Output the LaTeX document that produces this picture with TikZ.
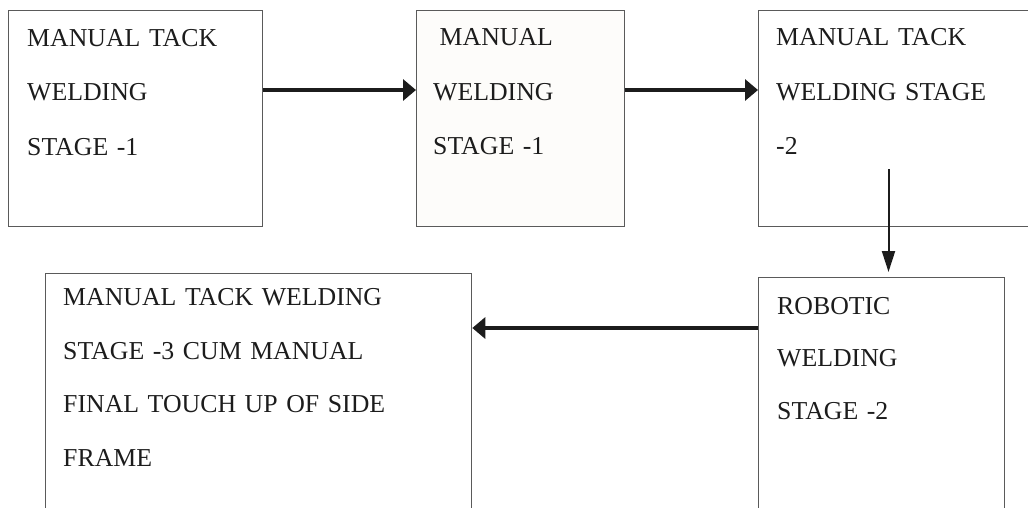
\documentclass[tikz,border=0pt]{standalone}
\usepackage{fontspec}
\setmainfont{Liberation Serif}[WordSpace=1.5]
\usetikzlibrary{arrows.meta}
\definecolor{framegray}{RGB}{90,90,90}
\definecolor{inkblack}{RGB}{28,28,28}
\definecolor{paper}{RGB}{253,252,250}

\begin{document}
\begin{tikzpicture}[x=1pt, y=-1pt,
    stagebox/.style={draw=framegray, line width=1.3pt, inner sep=0pt, anchor=north west},
    stagetext/.style={anchor=base west, inner sep=0pt, text width=420pt, align=left, text=inkblack,
        font=\fontsize{25.8}{54.6}\selectfont},
    flow/.style={draw=inkblack, line width=3.2pt, -{Triangle[length=13pt, width=21pt]}},
    drop/.style={draw=inkblack, line width=2pt, -{Triangle[length=21pt, width=13pt]}}]
\useasboundingbox (0,0) rectangle (1028,507);
\clip (0,0) rectangle (1028,507);
\node[stagebox, minimum width=254pt, minimum height=216.5pt] (b1) at (8,9.5) {};
\node[stagebox, fill=paper, minimum width=208pt, minimum height=216.5pt] (b2) at (416,9.5) {};
\node[stagebox, minimum width=300pt, minimum height=216.5pt] (b3) at (758,9.5) {};
\node[stagebox, minimum width=246pt, minimum height=260pt] (b4) at (758,277) {};
\node[stagebox, minimum width=426pt, minimum height=260pt] (b5) at (45,273) {};
\node[stagetext] (t1) at ([shift={(19,36.5)}]b1.north west) {MANUAL TACK\\WELDING\\STAGE -1};
\node[stagetext] (t2) at ([shift={(17,36)}]b2.north west) {\hspace*{6.5pt}MANUAL\\WELDING\\STAGE -1};
\node[stagetext] (t3) at ([shift={(18,36)}]b3.north west) {MANUAL TACK\\WELDING STAGE\\-2};
\node[stagetext, font=\fontsize{25.8}{52.5}\selectfont] (t4) at ([shift={(19,37)}]b4.north west) {ROBOTIC\\WELDING\\STAGE -2};
\node[stagetext, font=\fontsize{25.8}{53.5}\selectfont] (t5) at ([shift={(18,32.5)}]b5.north west)
    {MANUAL TACK WELDING\\STAGE -3 CUM MANUAL\\FINAL TOUCH UP OF SIDE\\FRAME};
\coordinate (row1) at (0,90);
\coordinate (row2) at (0,328);
\coordinate (dropstart) at (888.5,169);
\draw[flow] (b1.east |- row1) -- (b2.west |- row1);
\draw[flow] (b2.east |- row1) -- (b3.west |- row1);
\draw[drop, shorten >=5pt] (dropstart) -- (dropstart |- b4.north);
\draw[flow] (b4.west |- row2) -- (b5.east |- row2);
\end{tikzpicture}
\end{document}
